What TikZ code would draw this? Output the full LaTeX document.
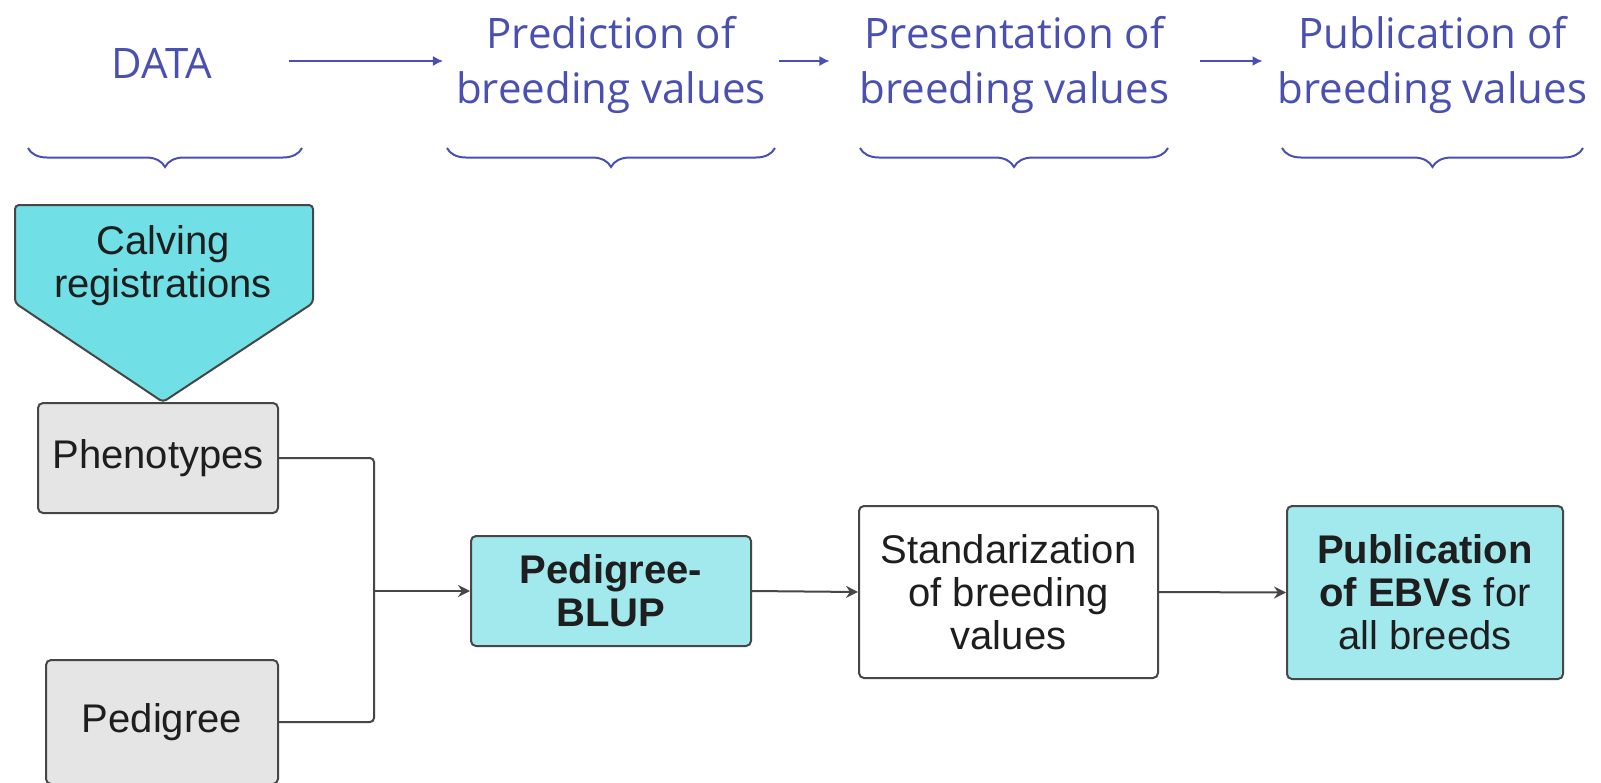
\documentclass[tikz,border=0pt]{standalone}
\usepackage{fontspec}
\setmainfont{Liberation Sans}
\newfontfamily\headfont{Open Sans}
\usetikzlibrary{arrows.meta,decorations.pathreplacing}
\definecolor{headblue}{RGB}{74,80,178}
\definecolor{tealdark}{RGB}{112,224,230}
\definecolor{teallight}{RGB}{162,233,238}
\definecolor{boxgray}{RGB}{229,229,229}
\definecolor{edgegray}{RGB}{70,70,70}
\definecolor{inkdark}{RGB}{30,30,30}
\tikzset{
	headtext/.style={font=\headfont\fontsize{42}{55}\selectfont, text=headblue, align=center, inner sep=0pt},
	headarrow/.style={draw=headblue, line width=1.5pt, -{Latex[length=10pt,width=10pt]}},
	headbrace/.style={draw=headblue, line width=2pt, decorate, decoration={brace, mirror, amplitude=19pt}},
	databox/.style={draw=edgegray, line width=2pt, rounded corners=5pt, text=inkdark, align=center, font=\fontsize{40}{43}\selectfont, inner sep=0pt},
	conn/.style={draw=edgegray, line width=2pt, rounded corners=4pt},
	conntip/.style={-{Stealth[length=12pt,width=12pt,inset=4pt]}}
}

\begin{document}
\begin{tikzpicture}[x=1pt, y=-1pt]
		%%%%% START %%%%%
		\useasboundingbox (0,0) rectangle (1601,782);
		\fill[white] (0,0) rectangle (1601,782);
		
		% stages on top
		\node[headtext] (data) at (162,63) {DATA};
		\node[headtext] (pred) at (611,64.5) {Prediction of\\breeding values};
		\node[headtext] (pres) at (1014.5,64.5) {Presentation of\\breeding values};
		\node[headtext] (publhead) at (1432.5,64.5) {Publication of\\breeding values};
		
		\draw[headarrow, shorten <=77pt, shorten >=13pt] ([yshift=2pt]data.east) -- ([yshift=3.5pt]pred.west);
		\draw[headarrow, shorten <=13pt, shorten >=30pt] ([yshift=3.5pt]pred.east) -- ([yshift=3.5pt]pres.west);
		\draw[headarrow, shorten <=30pt, shorten >=15pt] ([yshift=3.5pt]pres.east) -- ([yshift=3.5pt]publhead.west);
		
		\draw[headbrace] (28,148) -- (302,148);
		\draw[headbrace] (447,148) -- (775,148);
		\draw[headbrace] (860,148) -- (1168,148);
		\draw[headbrace] (1282,148) -- (1583,148);
		
		% data side
		\draw[fill=tealdark, draw=edgegray, line width=2pt, rounded corners=4pt] (15,303) -- (15,205) -- (313,205) -- (313,303) -- (163,402) -- cycle;
		\node[text=inkdark, align=center, font=\fontsize{40}{43}\selectfont, inner sep=0pt] (calving) at (163,266) {Calving\\registrations};
		
		\node[databox, fill=boxgray, minimum width=240pt, minimum height=110pt] (phen) at (158,458) {Phenotypes};
		\node[databox, fill=boxgray, minimum width=232pt, minimum height=124pt] (ped) at (162,722) {Pedigree};
		
		% evaluation chain
		\node[databox, fill=teallight, minimum width=280pt, minimum height=110pt] (blup) at (611,591) {\textbf{Pedigree-}\\\textbf{BLUP}};
		\node[databox, fill=white, minimum width=299pt, minimum height=172pt] (stand) at (1008.5,592) {Standarization\\of breeding\\values};
		\node[databox, fill=teallight, minimum width=276pt, minimum height=173pt] (publ) at (1425,592.5) {\textbf{Publication}\\\textbf{of EBVs} for\\all breeds};
		
		\coordinate (join) at (374,591);
		\draw[conn] (phen.east) -| (join);
		\draw[conn] (ped.east) -| (join);
		\draw[conn, conntip] (join) -- (blup.west);
		\draw[conn, conntip] (blup.east) -- (stand.west);
		\draw[conn, conntip] (stand.east) -- (publ.west);
		
		%%%%% END %%%%%
\end{tikzpicture}
\end{document}
